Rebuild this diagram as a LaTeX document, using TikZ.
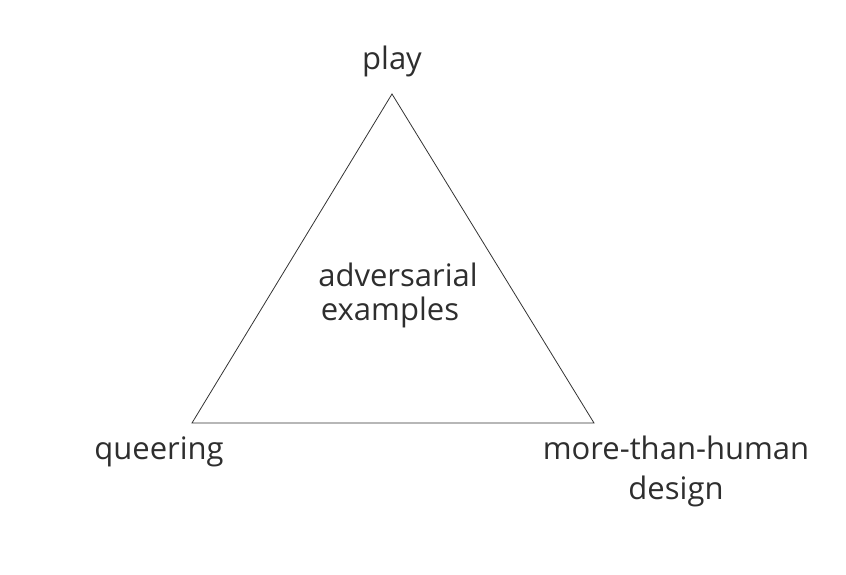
\documentclass[tikz,border=0pt]{standalone}
\usepackage{fontspec}
\setmainfont{Open Sans}
\definecolor{txt}{HTML}{2E2E2E}
\definecolor{edge}{HTML}{333333}
\begin{document}
\begin{tikzpicture}[x=1pt,y=1pt,
  lbl/.style={inner sep=0pt, text=txt, font=\fontsize{31}{36}\selectfont, align=center, anchor=base}]
\useasboundingbox (0,0) rectangle (846,575);
\coordinate (top) at (392,481);
\coordinate (bl) at (192,152);
\coordinate (br) at (594,152);
\draw[edge, line width=0.8pt, line join=miter] (top) -- (br) -- (bl) -- cycle;
\node[lbl] (play) at (392,505) {play};
\node[lbl] (queer) at (159,115) {queering};
\node[lbl] (more) at (676,115) {more-than-human};
\node[lbl] (design) at (676,75) {design};
\node[lbl] (adv) at (398,288) {adversarial};
\node[lbl] (ex) at (390,254) {examples};
\end{tikzpicture}
\end{document}
